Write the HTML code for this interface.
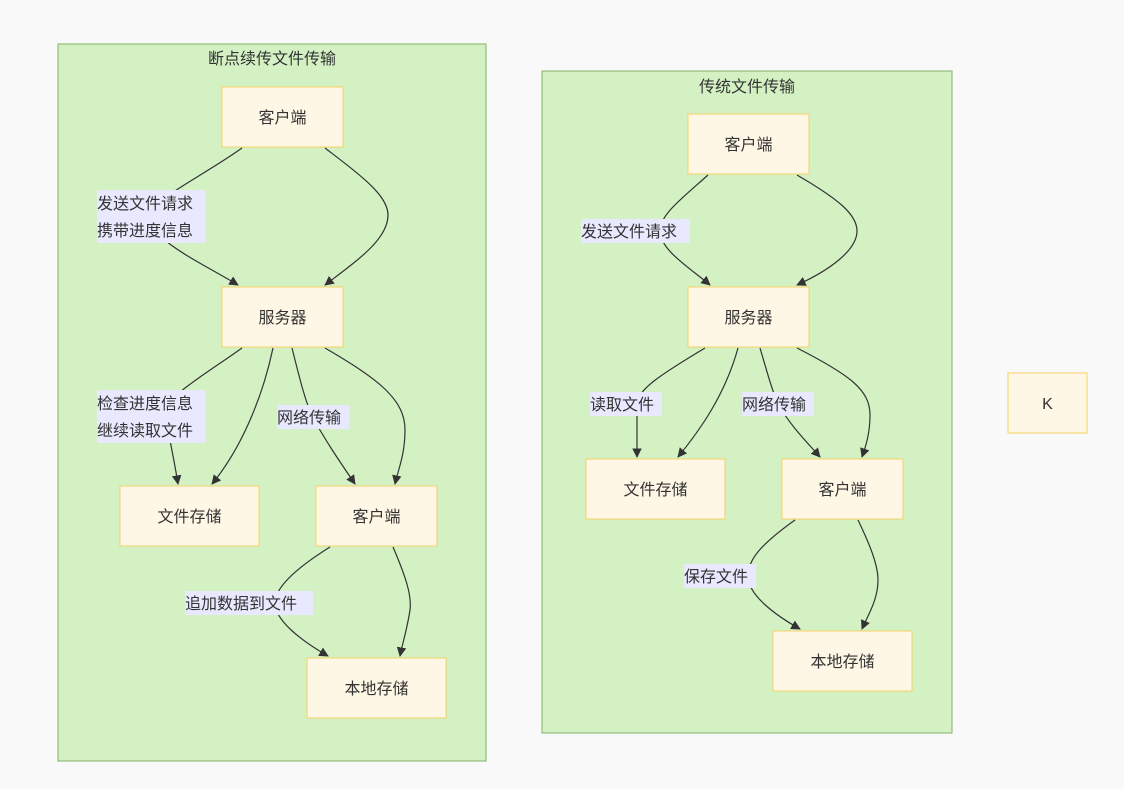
<!DOCTYPE html>
<html><head><meta charset="utf-8"><style>
html,body{margin:0;padding:0;background:#f9f9f9;}
svg{display:block;font-family:"Liberation Sans","Noto Sans CJK SC",sans-serif;}
.c{fill:#d4f1c4;stroke:#82b366;stroke-width:1}
.n{fill:#fff7e6;stroke:#f5d165;stroke-width:1}
.e{fill:none;stroke:#333;stroke-width:1.2}
.l{fill:#e8e8ff}
text{font-size:16px;fill:#333}
</style></head><body>
<svg width="1124" height="789" viewBox="0 0 1124 789">
<defs><marker id="a" viewBox="0 0 10 10" refX="9" refY="5" markerWidth="8" markerHeight="8" orient="auto"><path d="M0,0L10,5L0,10z" fill="#333"/></marker></defs>
<rect class="c" x="58" y="44" width="428" height="717"/>
<rect class="c" x="542" y="71" width="410" height="662"/>
<text x="272" y="64" text-anchor="middle">断点续传文件传输</text>
<text x="747" y="92" text-anchor="middle">传统文件传输</text>

<g class="e" marker-end="url(#a)">
<path d="M242,148 C200,178 150,200 150,217 C150,240 200,262 238,285"/>
<path d="M325,148 C360,175 388,195 388,215 C388,240 355,262 325,285"/>
<path d="M242,348 C200,378 160,400 165,416 C170,440 175,465 178,484"/>
<path d="M273,348 C262,400 240,450 212,484"/>
<path d="M292,348 C300,380 305,400 312,416 C325,440 340,462 355,484"/>
<path d="M325,348 C380,380 405,400 405,430 C405,455 398,470 395,484"/>
<path d="M330,547 C290,572 275,590 275,603 C275,620 300,640 328,656"/>
<path d="M393,547 C405,575 412,595 410,610 C407,630 402,645 400,656"/>
<path d="M708,175 C680,200 660,215 660,231 C660,250 690,268 710,285"/>
<path d="M797,175 C840,200 857,215 857,231 C857,250 830,270 797,285"/>
<path d="M705,348 C660,375 637,390 637,404 C637,425 637,445 637,457"/>
<path d="M738,348 C725,395 700,430 678,457"/>
<path d="M760,348 C768,375 772,390 778,404 C790,425 805,440 820,457"/>
<path d="M797,348 C850,375 870,390 870,415 C870,435 865,448 862,457"/>
<path d="M795,520 C760,545 748,560 748,576 C748,595 775,615 800,629"/>
<path d="M858,520 C870,545 878,565 878,580 C878,600 868,615 862,629"/>
</g>

<rect class="l" x="97" y="190" width="108" height="53"/>
<text x="97" y="209">发送文件请求</text><text x="97" y="236">携带进度信息</text>
<rect class="l" x="97" y="390" width="108" height="53"/>
<text x="97" y="409">检查进度信息</text><text x="97" y="436">继续读取文件</text>
<rect class="l" x="277" y="405" width="72" height="24"/>
<text x="277" y="423">网络传输</text>
<rect class="l" x="185" y="591" width="128" height="24"/>
<text x="185" y="609">追加数据到文件</text>
<rect class="l" x="581" y="219" width="109" height="24"/>
<text x="581" y="237">发送文件请求</text>
<rect class="l" x="590" y="392" width="72" height="24"/>
<text x="590" y="410">读取文件</text>
<rect class="l" x="742" y="392" width="72" height="24"/>
<text x="742" y="410">网络传输</text>
<rect class="l" x="684" y="564" width="72" height="24"/>
<text x="684" y="582">保存文件</text>

<rect class="n" x="222" y="87" width="121" height="60"/><text x="282.5" y="123" text-anchor="middle">客户端</text>
<rect class="n" x="222" y="287" width="121" height="60"/><text x="282.5" y="323" text-anchor="middle">服务器</text>
<rect class="n" x="120" y="486" width="139" height="60"/><text x="189.5" y="522" text-anchor="middle">文件存储</text>
<rect class="n" x="316" y="486" width="121" height="60"/><text x="376.5" y="522" text-anchor="middle">客户端</text>
<rect class="n" x="307" y="658" width="139" height="60"/><text x="376.5" y="694" text-anchor="middle">本地存储</text>

<rect class="n" x="688" y="114" width="121" height="60"/><text x="748.5" y="150" text-anchor="middle">客户端</text>
<rect class="n" x="688" y="287" width="121" height="60"/><text x="748.5" y="323" text-anchor="middle">服务器</text>
<rect class="n" x="586" y="459" width="139" height="60"/><text x="655.5" y="495" text-anchor="middle">文件存储</text>
<rect class="n" x="782" y="459" width="121" height="60"/><text x="842.5" y="495" text-anchor="middle">客户端</text>
<rect class="n" x="773" y="631" width="139" height="60"/><text x="842.5" y="667" text-anchor="middle">本地存储</text>

<rect class="n" x="1008" y="373" width="79" height="60"/><text x="1047.5" y="409" text-anchor="middle">K</text>
</svg>
</body></html>
